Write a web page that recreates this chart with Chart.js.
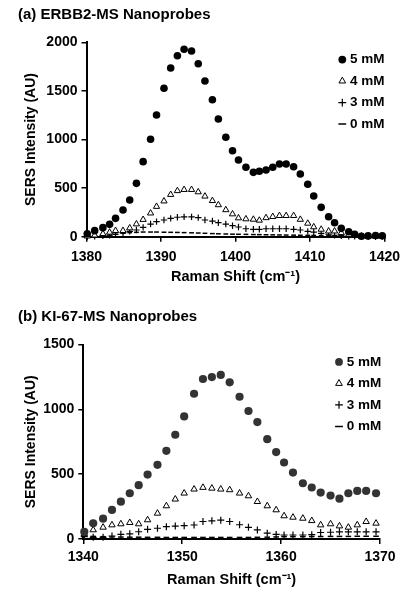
<!DOCTYPE html>
<html>
<head>
<meta charset="utf-8">
<script src="https://cdn.jsdelivr.net/npm/chart.js@4.4.1/dist/chart.umd.min.js"></script>
<style>
html,body{margin:0;padding:0;background:#fff;}
#wrap{position:relative;width:409px;height:600px;overflow:hidden;}
canvas{position:absolute;left:0;width:409px;height:300px;}
#ca{top:0;}
#cb{top:300px;}
</style>
</head>
<body>
<div id="wrap">
<canvas id="ca" width="409" height="300"></canvas>
<canvas id="cb" width="409" height="300"></canvas>
</div>
<script>
// ---------- Data: (a) ERBB2-MS Nanoprobes ----------
const shiftA = [1380.1, 1381.1, 1382.2, 1383.1, 1383.9, 1384.9, 1385.8, 1386.7, 1387.6, 1388.6,
  1389.4, 1390.4, 1391.3, 1392.2, 1393.1, 1394.1, 1395.0, 1395.9, 1396.9, 1397.7,
  1398.7, 1399.6, 1400.4, 1401.4, 1402.4, 1403.2, 1404.1, 1405.0, 1405.9, 1406.8,
  1407.8, 1408.7, 1409.7, 1410.5, 1411.5, 1412.5, 1413.3, 1414.2, 1415.2, 1416.0,
  1416.9, 1417.8, 1418.8, 1419.7];
const erbb2_5mM = [30, 62, 93, 127, 189, 275, 378, 549, 772, 1002,
  1252, 1527, 1736, 1862, 1928, 1910, 1780, 1602, 1409, 1211,
  1023, 885, 789, 714, 662, 673, 686, 714, 748, 748,
  720, 645, 539, 419, 302, 206, 144, 86, 51, 25,
  5, 8, 12, 10];
const erbb2_4mM = [5, 15, 30, 45, 62, 62, 89, 130, 176, 242,
  310, 366, 433, 472, 484, 484, 460, 416, 370, 327,
  276, 233, 192, 182, 178, 168, 194, 206, 216, 216,
  216, 177, 137, 100, 75, 57, 57, 40, 20, 10,
  5, 3, 2, 2];
const erbb2_3mM = [0, 3, 8, 15, 25, 40, 55, 69, 96, 130,
  155, 172, 189, 200, 204, 204, 196, 172, 161, 144,
  130, 113, 100, 82, 76, 76, 82, 82, 82, 82,
  76, 69, 55, 48, 35, 25, 15, 10, 5, 3,
  2, 0, 0, 0];
const erbb2_0mM = [5, 8, 12, 18, 25, 35, 42, 45, 48, 48,
  48, 46, 45, 44, 42, 40, 38, 35, 32, 30,
  28, 26, 25, 24, 22, 21, 20, 19, 18, 17,
  16, 15, 14, 13, 12, 11, 10, 9, 8, 7,
  6, 5, 5, 5];

// ---------- Data: (b) KI-67-MS Nanoprobes ----------
const shiftB = [1340.1, 1341.0, 1342.0, 1342.9, 1343.8, 1344.7, 1345.6, 1346.5, 1347.5, 1348.4,
  1349.3, 1350.2, 1351.2, 1352.1, 1353.0, 1353.9, 1354.8, 1355.8, 1356.7, 1357.6,
  1358.6, 1359.5, 1360.3, 1361.2, 1362.2, 1363.1, 1364.0, 1365.0, 1365.9, 1366.8,
  1367.7, 1368.6, 1369.6];
const ki67_5mM = [56, 121, 157, 224, 288, 353, 415, 497, 572, 680,
  804, 945, 1120, 1234, 1249, 1265, 1208, 1097, 987, 902,
  770, 670, 590, 512, 430, 397, 358, 335, 311, 353,
  371, 371, 353];
const ki67_4mM = [40, 70, 90, 108, 116, 126, 116, 147, 198, 255,
  307, 353, 384, 397, 391, 384, 379, 353, 332, 288,
  255, 224, 178, 167, 159, 141, 108, 116, 100, 90,
  108, 134, 121];
const ki67_3mM = [18, 13, 13, 23, 36, 40, 56, 75, 83, 95,
  100, 103, 108, 135, 140, 145, 135, 110, 90, 70,
  45, 35, 31, 31, 31, 33, 50, 52, 55, 55,
  55, 55, 55];
const ki67_0mM = [25, 20, 18, 16, 15, 14, 14, 13, 13, 12,
  12, 12, 12, 12, 12, 12, 12, 12, 12, 13,
  14, 16, 18, 18, 18, 19, 19, 20, 20, 20,
  21, 21, 21];

const seriesLabels = ['5 mM', '4 mM', '3 mM', '0 mM'];
const titleA = '(a) ERBB2-MS Nanoprobes';
const titleB = '(b) KI-67-MS Nanoprobes';
const xTitle = 'Raman Shift (cm\u207B\u00B9)';
const yTitle = 'SERS Intensity (AU)';
const xTicksA = {min: 1380, max: 1420, step: 10};
const yTicksA = {min: 0, max: 2000, step: 500};
const xTicksB = {min: 1340, max: 1370, step: 10};
const yTicksB = {min: 0, max: 1500, step: 500};

// ---------- helpers ----------
const FAMILY = '"Liberation Sans", Arial, Helvetica, sans-serif';
Chart.defaults.font.family = FAMILY;
Chart.defaults.color = '#000';

function pts(xs, ys) { return xs.map((x, i) => ({x: x, y: ys[i]})); }

const legendPlace = {
  id: 'legendPlace',
  afterLayout(chart, args, opts) {
    const lg = chart.legend;
    if (!lg) return;
    lg.left = opts.x; lg.top = opts.y;
    lg.right = chart.width; lg.bottom = chart.height;
    lg.width = lg.right - lg.left; lg.height = lg.bottom - lg.top;
  }
};

function makeDatasets(xs, s5, s4, s3, s0, dotColor, r) {
  return [
    {label: seriesLabels[0], data: pts(xs, s5), pointStyle: 'circle', pointRadius: r.c,
     backgroundColor: dotColor, borderColor: dotColor, pointBackgroundColor: dotColor,
     pointBorderColor: dotColor, borderWidth: 0, pointBorderWidth: 0, clip: false},
    {label: seriesLabels[1], data: pts(xs, s4), pointStyle: 'triangle', pointRadius: r.t,
     backgroundColor: '#fff', borderColor: '#000', pointBackgroundColor: '#fff',
     pointBorderColor: '#000', borderWidth: 1, pointBorderWidth: 1, clip: false},
    {label: seriesLabels[2], data: pts(xs, s3), pointStyle: 'cross', pointRadius: r.p,
     backgroundColor: '#000', borderColor: '#000', pointBackgroundColor: '#000',
     pointBorderColor: '#000', borderWidth: 1.2, pointBorderWidth: 1.2, clip: false},
    {label: seriesLabels[3], data: pts(xs, s0), pointStyle: 'line', pointRadius: r.d,
     backgroundColor: '#000', borderColor: '#000', pointBackgroundColor: '#000',
     pointBorderColor: '#000', borderWidth: 1.5, pointBorderWidth: 1.5, clip: false}
  ];
}

function makeChart(id, cfg) {
  const boldF = (s) => ({family: FAMILY, size: s, weight: 'bold'});
  return new Chart(document.getElementById(id), {
    type: 'scatter',
    data: {datasets: cfg.datasets},
    plugins: [legendPlace],
    options: {
      responsive: false,
      animation: false,
      devicePixelRatio: 1,
      events: [],
      layout: {padding: {left: 18, right: cfg.padRight, top: 0, bottom: 0}},
      plugins: {
        tooltip: {enabled: false},
        title: {display: true, text: cfg.title, align: 'start', color: '#000',
          font: boldF(15), padding: {top: cfg.titleTop, bottom: cfg.titleBottom}},
        legend: {
          display: true, position: 'chartArea', align: 'start',
          labels: {usePointStyle: true, boxWidth: 2, boxHeight: 5.5, padding: 8,
            color: '#000', font: boldF(13.5)}
        },
        legendPlace: {x: cfg.legX, y: cfg.legY}
      },
      scales: {
        x: {
          type: 'linear', min: cfg.xt.min, max: cfg.xt.max,
          afterFit: (s) => { s.height = cfg.xHeight; },
          border: {display: true, color: '#000', width: 2},
          grid: {display: true, drawOnChartArea: false, drawTicks: true, tickLength: 5,
            color: '#000', lineWidth: 1.5},
          ticks: {stepSize: cfg.xt.step, color: '#000', font: boldF(14), padding: cfg.xTickPad,
            maxRotation: 0, callback: (v) => String(v)},
          title: {display: true, text: xTitle, color: '#000', font: boldF(14.5),
            padding: {top: 0, bottom: cfg.xTitleBottom}}
        },
        y: {
          type: 'linear', min: cfg.yt.min, max: cfg.yt.max,
          afterFit: (s) => { s.width = cfg.yWidth; },
          border: {display: true, color: '#000', width: 2},
          grid: {display: true, drawOnChartArea: false, drawTicks: true, tickLength: 5,
            color: '#000', lineWidth: 1.5},
          ticks: {stepSize: cfg.yt.step, color: '#000', font: boldF(14), padding: 4,
            callback: (v) => String(v)},
          title: {display: true, text: yTitle, color: '#000', font: boldF(14),
            padding: {top: 4.6, bottom: 0}}
        }
      }
    }
  });
}

makeChart('ca', {
  datasets: makeDatasets(shiftA, erbb2_5mM, erbb2_4mM, erbb2_3mM, erbb2_0mM, '#000',
    {c: 3.8, t: 3.6, p: 3.2, d: 2.4}),
  title: titleA, titleTop: 6.0, titleBottom: 18.3,
  padRight: 24.5, yWidth: 68.5, xHeight: 63.3, xTickPad: 6.6, xTitleBottom: 14.6,
  xt: xTicksA, yt: yTicksA, legX: 333.3, legY: 44.8
});

makeChart('cb', {
  datasets: makeDatasets(shiftB, ki67_5mM, ki67_4mM, ki67_3mM, ki67_0mM, '#333',
    {c: 4.1, t: 3.7, p: 3.5, d: 2.8}),
  title: titleB, titleTop: 7.7, titleBottom: 18.8,
  padRight: 29, yWidth: 65.3, xHeight: 61, xTickPad: 4.3, xTitleBottom: 11.3,
  xt: xTicksB, yt: yTicksB, legX: 330, legY: 47.2
});
</script>
</body>
</html>
